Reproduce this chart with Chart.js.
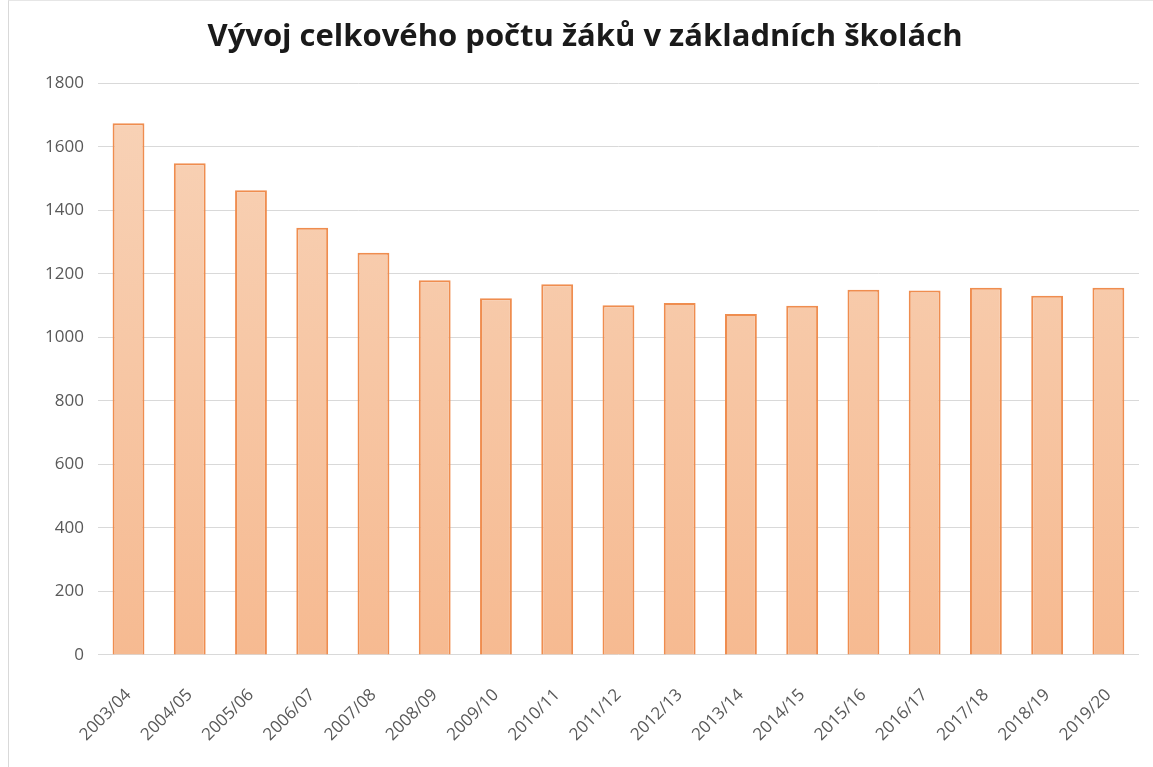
<!DOCTYPE html>
<html>
<head>
<meta charset="utf-8">
<script src="https://cdn.jsdelivr.net/npm/chart.js@4.4.1/dist/chart.umd.min.js"></script>
<style>
  html, body { margin: 0; padding: 0; background: #fff; }
  #obal { position: absolute; left: 8px; top: 0; width: 1145px; height: 767px; border-left: 1px solid #d9d9d9; border-top: 1px solid #e6e6e6; box-sizing: border-box; }
</style>
</head>
<body>
<div id="obal"><canvas id="grafZaci"></canvas></div>
<script>
const skolniRoky = ['2003/04', '2004/05', '2005/06', '2006/07', '2007/08', '2008/09', '2009/10', '2010/11',
  '2011/12', '2012/13', '2013/14', '2014/15', '2015/16', '2016/17', '2017/18', '2018/19', '2019/20']
const pocetZaku = [1674, 1548, 1463, 1345, 1266, 1180, 1123, 1167, 1101, 1108, 1073, 1099, 1150, 1147, 1156, 1131, 1156]

const nadpis = 'Vývoj celkového počtu žáků v základních školách'

function vyplnSloupcu(context) {
  const chart = context.chart
  const oblast = chart.chartArea
  if (!oblast) return '#f7c6a3'
  const grad = chart.ctx.createLinearGradient(0, oblast.top, 0, oblast.bottom)
  grad.addColorStop(0, '#f8d3b8')
  grad.addColorStop(1, '#f6ba91')
  return grad
}

const platno = document.querySelector('#grafZaci')
platno.width = 1144
platno.height = 766

const graf = new Chart(platno, {
  type: 'bar',
  data: {
    labels: skolniRoky,
    datasets: [{
      label: 'Počet žáků',
      data: pocetZaku,
      backgroundColor: vyplnSloupcu,
      borderColor: '#ef8d4f',
      borderWidth: 2,
      categoryPercentage: 1,
      barPercentage: 0.52
    }]
  },
  options: {
    responsive: false,
    animation: false,
    devicePixelRatio: 1,
    layout: { padding: { left: 22, right: 14, top: 0, bottom: 0 } },
    plugins: {
      legend: { display: false },
      tooltip: { enabled: false },
      title: {
        display: true,
        text: nadpis,
        color: '#1a1a1a',
        font: { family: 'Open Sans', size: 31, weight: 'bold' },
        padding: { top: 18, bottom: 27 }
      }
    },
    scales: {
      x: {
        grid: { display: false },
        border: { display: false },
        ticks: {
          color: '#595959',
          font: { family: 'Open Sans', size: 17 },
          minRotation: 45,
          maxRotation: 45,
          padding: 22
        }
      },
      y: {
        min: 0,
        max: 1800,
        grid: { color: '#d9d9d9', lineWidth: 1, drawTicks: false },
        border: { display: false },
        ticks: {
          stepSize: 200,
          color: '#595959',
          font: { family: 'Open Sans', size: 17 },
          padding: 14,
          callback: (hodnota) => String(hodnota)
        }
      }
    }
  }
})
</script>
</body>
</html>
